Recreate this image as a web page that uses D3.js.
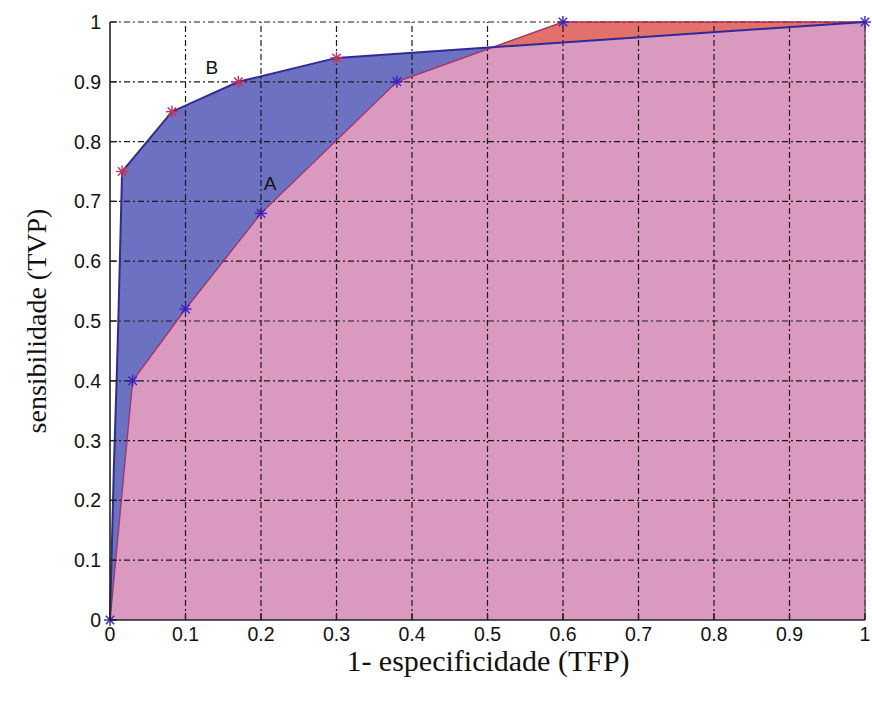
<!DOCTYPE html>
<html>
<head>
<meta charset="utf-8">
<script src="https://cdn.jsdelivr.net/npm/d3@7"></script>
<style>
  html, body { margin: 0; padding: 0; background: #fff; }
  svg { display: block; }
</style>
</head>
<body>
<svg id="chart" width="872" height="702"></svg>
<script>
// ROC curve A (false positive rate, true positive rate)
const fprA = [0, 0.03, 0.10, 0.20, 0.38, 0.60, 1.0];
const tprA = [0, 0.40, 0.52, 0.68, 0.90, 1.0, 1.0];

// ROC curve B
const fprB = [0, 0.005, 0.009, 0.011, 0.013, 0.016, 0.082, 0.17, 0.30, 1.0];
const tprB = [0, 0.25, 0.41, 0.50, 0.60, 0.75, 0.85, 0.90, 0.94, 1.0];
const markB = [false, false, false, false, false, true, true, true, true, false];

const xTicks = [0, 0.1, 0.2, 0.3, 0.4, 0.5, 0.6, 0.7, 0.8, 0.9, 1];
const yTicks = [0, 0.1, 0.2, 0.3, 0.4, 0.5, 0.6, 0.7, 0.8, 0.9, 1];
const xTickLabels = ["0", "0.1", "0.2", "0.3", "0.4", "0.5", "0.6", "0.7", "0.8", "0.9", "1"];
const yTickLabels = ["0", "0.1", "0.2", "0.3", "0.4", "0.5", "0.6", "0.7", "0.8", "0.9", "1"];

const curveLabels = [
  { text: "A", x: 0.212, y: 0.73 },
  { text: "B", x: 0.135, y: 0.925 }
];

const xLabel = "1- especificidade (TFP)";
const yLabel = "sensibilidade (TVP)";

const svg = d3.select("#chart");
const plot = { left: 110, right: 865, top: 22, bottom: 620 };

const x = d3.scaleLinear().domain([0, 1]).range([plot.left, plot.right]);
const y = d3.scaleLinear().domain([0, 1]).range([plot.bottom, plot.top]);

const ptsA = fprA.map((v, i) => [v, tprA[i]]);
const ptsB = fprB.map((v, i) => [v, tprB[i]]);

const area = d3.area().x(d => x(d[0])).y0(y(0)).y1(d => y(d[1]));
const line = d3.line().x(d => x(d[0])).y(d => y(d[1]));

const defs = svg.append("defs");
defs.append("clipPath").attr("id", "underB")
  .append("path").attr("d", area(ptsB));

// area under A only -> red; under B only -> blue; under both -> pink
svg.append("path").attr("d", area(ptsA)).attr("fill", "#e2716c");
svg.append("path").attr("d", area(ptsB)).attr("fill", "#6d71c1");
svg.append("path").attr("d", area(ptsA)).attr("fill", "#da9abf")
  .attr("clip-path", "url(#underB)");

// dash-dot grid
const grid = svg.append("g").attr("stroke", "#1a1a1a").attr("stroke-width", 1.2)
  .attr("stroke-dasharray", "6,3,2,3");
grid.selectAll("line.v").data(xTicks.slice(1)).join("line").attr("class", "v")
  .attr("x1", d => x(d)).attr("x2", d => x(d))
  .attr("y1", y(0)).attr("y2", y(1));
grid.selectAll("line.h").data(yTicks.slice(1)).join("line").attr("class", "h")
  .attr("x1", x(0)).attr("x2", x(1))
  .attr("y1", d => y(d)).attr("y2", d => y(d));

// right edge of the filled region
svg.append("line").attr("x1", x(1)).attr("x2", x(1)).attr("y1", y(0)).attr("y2", y(1))
  .attr("stroke", "#6a5a66").attr("stroke-width", 1.5);

// curve outlines
svg.append("path").attr("d", line(ptsA)).attr("fill", "none")
  .attr("stroke", "#b0305a").attr("stroke-width", 1.4);
svg.append("path").attr("d", line(ptsB)).attr("fill", "none")
  .attr("stroke", "#2f2a9a").attr("stroke-width", 2);

// asterisk markers
function star(g, pts, color) {
  const r = 6;
  const s = g.selectAll(null).data(pts).join("g")
    .attr("transform", d => `translate(${x(d[0])},${y(d[1])})`)
    .attr("stroke", color).attr("stroke-width", 1.4);
  s.append("line").attr("x1", -r).attr("x2", r).attr("y1", 0).attr("y2", 0);
  s.append("line").attr("x1", 0).attr("x2", 0).attr("y1", -r).attr("y2", r);
  s.append("line").attr("x1", -r * 0.7).attr("x2", r * 0.7).attr("y1", -r * 0.7).attr("y2", r * 0.7);
  s.append("line").attr("x1", -r * 0.7).attr("x2", r * 0.7).attr("y1", r * 0.7).attr("y2", -r * 0.7);
}
star(svg.append("g"), ptsB.filter((d, i) => markB[i]), "#c2305c");
star(svg.append("g"), ptsA, "#3a22b8");

// axes lines
const axisG = svg.append("g").attr("stroke", "#222").attr("stroke-width", 1.6);
axisG.append("line").attr("x1", x(0)).attr("x2", x(0)).attr("y1", y(0)).attr("y2", y(1));
axisG.append("line").attr("x1", x(0)).attr("x2", x(1)).attr("y1", y(0)).attr("y2", y(0));

// inward ticks
const tickLen = 7;
svg.append("g").attr("stroke", "#222").attr("stroke-width", 1.3)
  .selectAll("line").data(xTicks).join("line")
  .attr("x1", d => x(d)).attr("x2", d => x(d))
  .attr("y1", y(0)).attr("y2", y(0) - tickLen);
svg.append("g").attr("stroke", "#222").attr("stroke-width", 1.3)
  .selectAll("line").data(yTicks).join("line")
  .attr("x1", x(0)).attr("x2", x(0) + tickLen)
  .attr("y1", d => y(d)).attr("y2", d => y(d));

// tick labels
const tickFont = "Liberation Sans, Arial, sans-serif";
svg.append("g").selectAll("text").data(xTicks).join("text")
  .attr("x", d => x(d)).attr("y", y(0) + 21)
  .attr("text-anchor", "middle")
  .attr("font-family", tickFont).attr("font-size", 19.5).attr("fill", "#111")
  .text((d, i) => xTickLabels[i]);
svg.append("g").selectAll("text").data(yTicks).join("text")
  .attr("x", x(0) - 9).attr("y", d => y(d) + 7)
  .attr("text-anchor", "end")
  .attr("font-family", tickFont).attr("font-size", 19.5).attr("fill", "#111")
  .text((d, i) => yTickLabels[i]);

// curve names
svg.append("g").selectAll("text").data(curveLabels).join("text")
  .attr("x", d => x(d.x)).attr("y", d => y(d.y) + 7)
  .attr("text-anchor", "middle")
  .attr("font-family", tickFont).attr("font-size", 19).attr("fill", "#111")
  .text(d => d.text);

// axis titles
const titleFont = "Liberation Serif, Times New Roman, serif";
svg.append("text").attr("x", 488).attr("y", 671)
  .attr("text-anchor", "middle")
  .attr("font-family", titleFont).attr("font-size", 30).attr("fill", "#111")
  .text(xLabel);
svg.append("text")
  .attr("transform", `translate(46,${(plot.top + plot.bottom) / 2}) rotate(-90)`)
  .attr("text-anchor", "middle")
  .attr("font-family", titleFont).attr("font-size", 28).attr("fill", "#111")
  .text(yLabel);
</script>
</body>
</html>
